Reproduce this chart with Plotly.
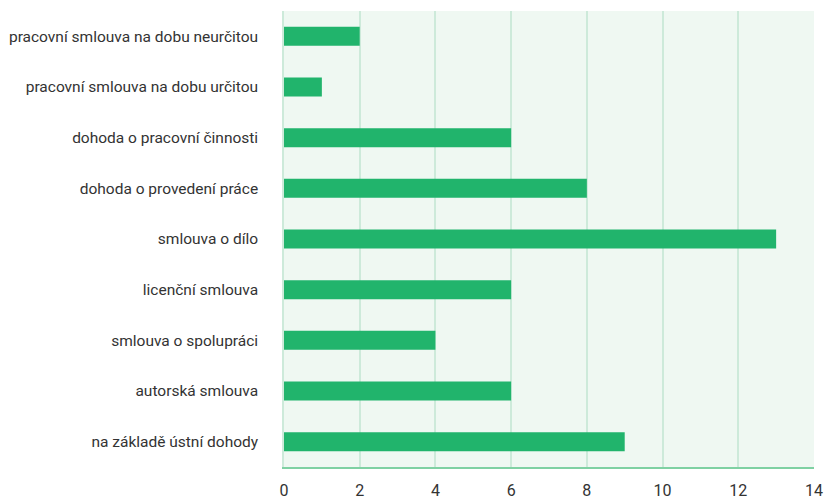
import plotly.graph_objects as go

categories = [
    "pracovní smlouva na dobu neurčitou",
    "pracovní smlouva na dobu určitou",
    "dohoda o pracovní činnosti",
    "dohoda o provedení práce",
    "smlouva o dílo",
    "licenční smlouva",
    "smlouva o spolupráci",
    "autorská smlouva",
    "na základě ústní dohody",
]
values = [2, 1, 6, 8, 13, 6, 4, 6, 9]
x_ticks = [0, 2, 4, 6, 8, 10, 12, 14]

fig = go.Figure(go.Bar(
    x=values, y=categories, orientation="h",
    marker=dict(color="#21b46c", line=dict(width=0)),
    hoverinfo="x+y",
))

fig.update_layout(
    width=825, height=499,
    margin=dict(l=284, r=11, t=11, b=32, pad=0),
    paper_bgcolor="white",
    plot_bgcolor="#eff8f2",
    bargap=0.625,
    showlegend=False,
    font=dict(family="Roboto", size=15.5, color="#333333"),
)
fig.update_xaxes(
    range=[0, 14], tickvals=x_ticks, showgrid=True, gridcolor="#cdeada", gridwidth=1.5,
    zeroline=False, showline=True, linecolor="#7fd1a3", linewidth=2,
    ticks="outside", ticklen=8, tickcolor="rgba(0,0,0,0)",
    tickfont=dict(size=16, color="#333333"), fixedrange=True, automargin=False,
)
fig.update_yaxes(
    categoryorder="array", categoryarray=categories[::-1],
    showgrid=False, zeroline=False, showline=True, linecolor="#cdeada", linewidth=1.5,
    ticks="outside", ticklen=21, tickcolor="rgba(0,0,0,0)",
    tickfont=dict(size=15.5, color="#333333"), fixedrange=True, automargin=False,
)

fig.write_html(
    "out.html",
    config={"displayModeBar": False},
    post_script="document.body.style.margin='0';document.body.style.overflow='hidden';",
)
